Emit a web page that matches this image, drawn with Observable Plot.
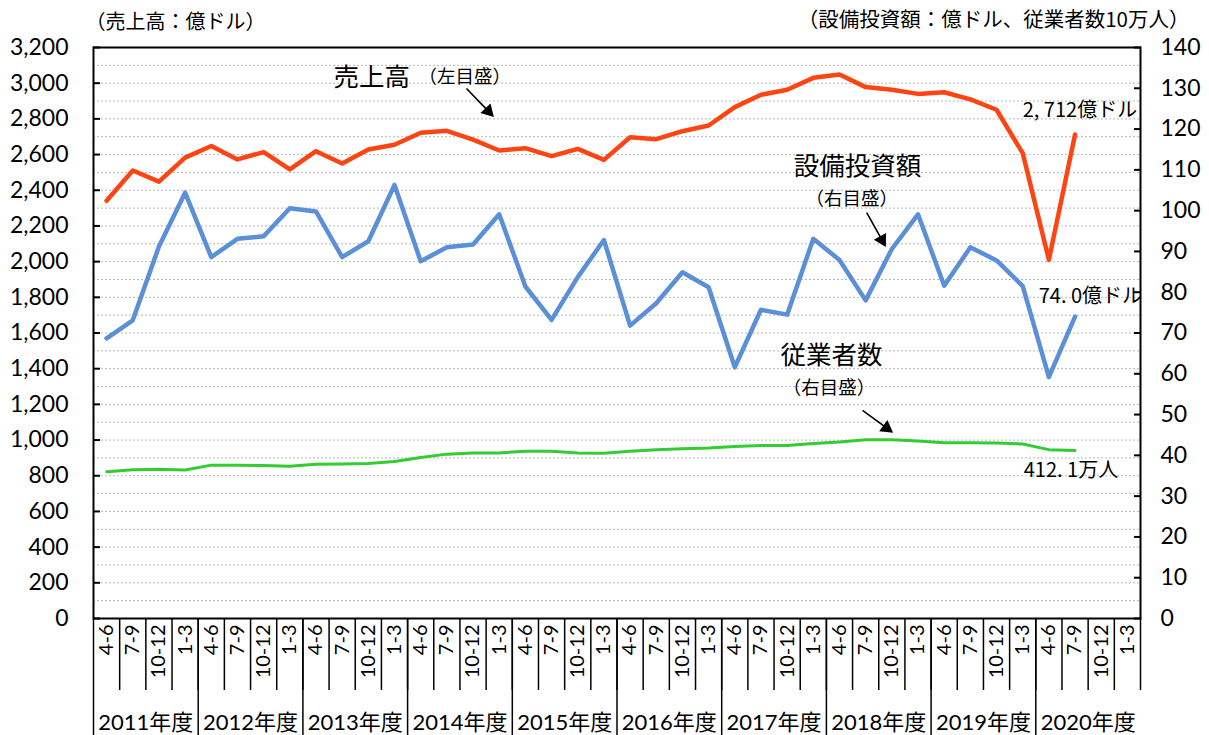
<!DOCTYPE html>
<html>
<head>
<meta charset="utf-8">
<script src="https://cdn.jsdelivr.net/npm/d3@7"></script>
<script src="https://cdn.jsdelivr.net/npm/@observablehq/plot@0.6"></script>
<style>
  html, body { margin: 0; padding: 0; background: #fff; }
  #chart svg { display: block; text-spacing-trim: space-all; }
  #chart svg text { text-spacing-trim: space-all; }
</style>
</head>
<body>
<div id="chart"></div>
<script>
// ---------- data ----------
const quarters = ["4-6", "7-9", "10-12", "1-3"];
const years = ["2011年度", "2012年度", "2013年度", "2014年度", "2015年度",
               "2016年度", "2017年度", "2018年度", "2019年度", "2020年度"];

// 売上高 (億ドル, left axis)
const sales = [2341, 2511, 2448, 2583, 2648, 2573, 2614, 2517, 2619, 2550,
               2628, 2655, 2722, 2733, 2684, 2623, 2636, 2591, 2632, 2570,
               2697, 2686, 2731, 2763, 2866, 2935, 2963, 3030, 3049, 2978,
               2963, 2940, 2949, 2909, 2851, 2608, 2010, 2712];

// 設備投資額 (億ドル, right axis)
const capex = [68.7, 73.1, 91.2, 104.4, 88.6, 93.1, 93.7, 100.6, 99.8, 88.6,
               92.5, 106.3, 87.6, 91.0, 91.7, 99.1, 81.4, 73.2, 83.7, 92.8,
               71.8, 77.3, 84.9, 81.2, 61.6, 75.7, 74.5, 93.1, 87.9, 78.0,
               90.6, 99.1, 81.6, 91.0, 87.8, 81.5, 59.2, 74.0];

// 従業者数 (10万人, right axis)
const employees = [36.0, 36.5, 36.6, 36.4, 37.6, 37.6, 37.5, 37.3, 37.8, 37.9,
                   38.0, 38.5, 39.5, 40.3, 40.6, 40.6, 41.0, 41.0, 40.6, 40.5,
                   41.0, 41.4, 41.6, 41.8, 42.2, 42.4, 42.4, 42.9, 43.3, 43.8,
                   43.8, 43.5, 43.1, 43.1, 43.0, 42.8, 41.4, 41.21];

const leftTicks = d3.range(0, 3201, 200);
const rightTicks = d3.range(0, 141, 10);
const gridValues = d3.range(100, 3200, 100);

const unitLeft = "（売上高：億ドル）";
const unitRight = "（設備投資額：億ドル、従業者数10万人）";

// annotations (x = period index, y = left-scale value)
const bigLabels = [
  {x: 8.67, y: 3032, text: "売上高"},
  {x: 26.25, y: 2530, text: "設備投資額"},
  {x: 25.75, y: 1474, text: "従業者数"}
];
const smallLabels = [
  {x: 11.92, y: 3032, text: "（左目盛）"},
  {x: 26.7, y: 2352, text: "（右目盛）"},
  {x: 25.83, y: 1294, text: "（右目盛）"}
];
const valueLabels = [
  {x: 35.0, y: 2847, text: "2, 712億ドル"},
  {x: 35.61, y: 1804, text: "74. 0億ドル"},
  {x: 35.04, y: 829, text: "412. 1万人"}
];
const arrows = [
  {x1: 13.75, y1: 2970, x2: 14.78, y2: 2813},
  {x1: 29.04, y1: 2275, x2: 29.76, y2: 2085},
  {x1: 28.88, y1: 1166, x2: 30.03, y2: 1043}
];

// ---------- layout ----------
const W = 1209, H = 735;
const ML = 93, MR = 69, MT = 47, MB = 117;
const N = years.length * quarters.length;
const xDomain = [-0.5, N - 0.5];
const yMax = 3200, rMax = 140;
const RATIO = yMax / rMax;
const kx = (W - ML - MR) / N;
const ky = (H - MT - MB) / yMax;

// keep full-width brackets at line start/end from being trimmed
const WJ = "\u2060";
const keepWidth = s => WJ + s + WJ;

const periods = years.flatMap((y, yi) => quarters.map((q, qi) => ({idx: yi * 4 + qi, quarter: q, year: y})));
const salesData = sales.map((v, i) => ({i, v}));
const capexData = capex.map((v, i) => ({i, v: v * RATIO}));
const empData = employees.map((v, i) => ({i, v: v * RATIO}));

const quarterBounds = d3.range(0, N).map(i => i + 0.5);
const yearBounds = d3.range(0, years.length).map(k => k * 4 - 0.5);

// arrow geometry: shaft + filled triangular head
const HEAD = 7.5;
const arrowGeo = arrows.map(a => {
  const sx = (a.x2 - a.x1) * kx, sy = -(a.y2 - a.y1) * ky;
  const len = Math.hypot(sx, sy);
  const ux = sx / len, uy = sy / len;
  return {
    x1: a.x1, y1: a.y1,
    lx: a.x2 - HEAD * ux / kx, ly: a.y2 + HEAD * uy / ky,
    hx: a.x2 - HEAD * ux / kx, hy: a.y2 + HEAD * uy / ky,
    rot: Math.atan2(ux, -uy) * 180 / Math.PI
  };
});

const NUM_FONT = "Lato, 'Noto Sans CJK JP', sans-serif";
const JP_FONT = "'Noto Sans CJK JP', sans-serif";

const chart = Plot.plot({
  width: W, height: H,
  marginLeft: ML, marginRight: MR, marginTop: MT, marginBottom: MB,
  style: {fontFamily: NUM_FONT, fontSize: "23px", color: "black", background: "white", overflow: "visible"},
  x: {type: "linear", domain: xDomain, axis: null},
  y: {domain: [0, yMax], axis: null},
  marks: [
    Plot.gridY(gridValues, {stroke: "#b8b8b8", strokeOpacity: 1, strokeDasharray: "2,2", strokeWidth: 1}),
    // series
    Plot.line(empData, {x: "i", y: "v", stroke: "#33cc33", strokeWidth: 3, strokeLinejoin: "round"}),
    Plot.line(capexData, {x: "i", y: "v", stroke: "#5b8fd8", strokeWidth: 4.5, strokeLinejoin: "round"}),
    Plot.line(salesData, {x: "i", y: "v", stroke: "#ff4414", strokeWidth: 4.5, strokeLinejoin: "round"}),
    Plot.frame({stroke: "black", strokeWidth: 2}),
    // left axis
    Plot.axisY(leftTicks, {anchor: "left", tickSize: -7, tickPadding: 32, strokeWidth: 2,
      tickFormat: d3.format(","), fontSize: 23, fontFamily: NUM_FONT}),
    // right axis (scaled)
    Plot.axisY(rightTicks.map(d => d * RATIO), {anchor: "right", tickSize: -7, tickPadding: 27, strokeWidth: 2,
      tickFormat: d => String(Math.round(d / RATIO)), fontSize: 23, fontFamily: NUM_FONT}),
    // category table below plot
    Plot.axisX(quarterBounds, {anchor: "bottom", tickSize: 72, tickFormat: () => "", strokeWidth: 1.5}),
    Plot.axisX(yearBounds, {anchor: "bottom", tickSize: 117, tickFormat: () => "", strokeWidth: 1.5}),
    Plot.text(periods, {x: "idx", text: "quarter", frameAnchor: "bottom", rotate: -90,
      textAnchor: "end", lineAnchor: "middle", dy: 6, fontSize: 20, fontFamily: NUM_FONT}),
    Plot.text(years, {x: (d, i) => i * 4 + 1.5, text: d => d, frameAnchor: "bottom",
      dy: 104, lineAnchor: "middle", fontSize: 22, fontFamily: NUM_FONT}),
    // units
    Plot.text([unitLeft], {text: keepWidth, frameAnchor: "top-left", textAnchor: "start", dx: -8, dy: -25,
      lineAnchor: "middle", fontSize: 20, fontFamily: JP_FONT}),
    Plot.text([unitRight], {text: keepWidth, frameAnchor: "top-right", textAnchor: "end", dx: 49, dy: -27,
      lineAnchor: "middle", fontSize: 20.5, fontFamily: JP_FONT}),
    // annotations
    Plot.text(bigLabels, {x: "x", y: "y", text: "text", textAnchor: "start", lineAnchor: "middle",
      fontSize: 25.5, fontFamily: JP_FONT}),
    Plot.text(smallLabels, {x: "x", y: "y", text: d => keepWidth(d.text), textAnchor: "start", lineAnchor: "middle",
      fontSize: 18.5, fontFamily: JP_FONT}),
    Plot.text(valueLabels, {x: "x", y: "y", text: "text", textAnchor: "start", lineAnchor: "middle",
      fontSize: 20, fontFamily: JP_FONT}),
    Plot.link(arrowGeo, {x1: "x1", y1: "y1", x2: "lx", y2: "ly", stroke: "black", strokeWidth: 1.6}),
    Plot.dot(arrowGeo, {x: "hx", y: "hy", symbol: "triangle", r: 5.2, fill: "black", stroke: "none", rotate: "rot"})
  ]
});
document.getElementById("chart").appendChild(chart);
</script>
</body>
</html>
